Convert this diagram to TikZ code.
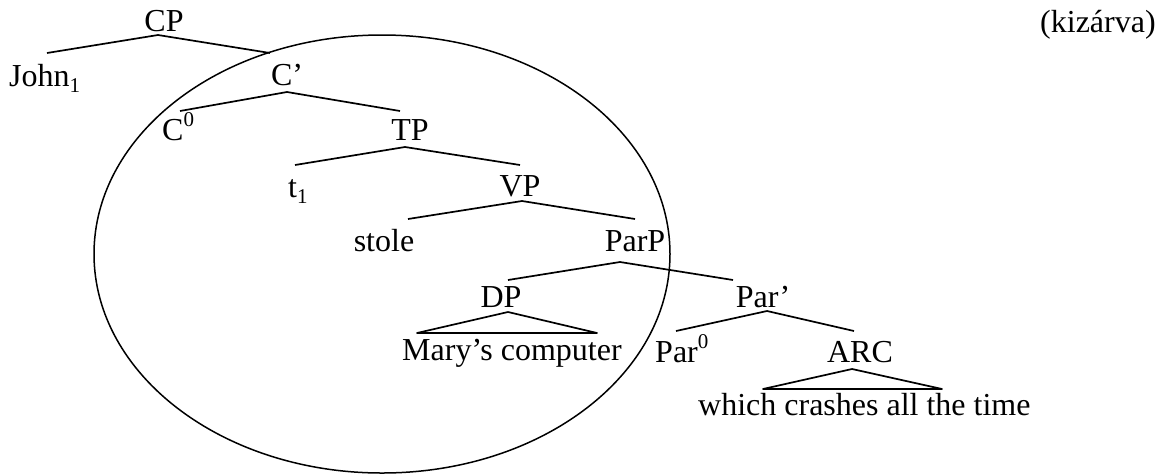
\documentclass[tikz,border=0pt]{standalone}
\usepackage{fontspec}
\setmainfont{Liberation Serif}
\newcommand{\lowsub}[1]{\raisebox{-0.2em}{\fontsize{21}{21}\selectfont #1}}
\newcommand{\highsup}[1]{\raisebox{0.42em}{\fontsize{21}{21}\selectfont #1}}
\begin{document}
\begin{tikzpicture}[x=1pt,y=-1pt,
  lab/.style={inner sep=0pt,font=\fontsize{32}{38}\selectfont},
  branch/.style={line width=1.7pt,line join=round},
  circ/.style={line width=1.5pt}]
\path[use as bounding box] (0,0) rectangle (1164,475);

% labels
\node[lab,anchor=base] (CP) at (164,31) {CP};
\node[lab,anchor=base west] (John) at (9,86) {John\lowsub{1}};
\node[lab,anchor=base] (Cbar) at (287,85) {C’};
\node[lab,anchor=base west] (C0) at (162,140) {C\highsup{0}};
\node[lab,anchor=base] (TP) at (410,140) {TP};
\node[lab,anchor=base west] (t1) at (288,197) {t\lowsub{1}};
\node[lab,anchor=base] (VP) at (520,196) {VP};
\node[lab,anchor=base] (stole) at (384,251) {stole};
\node[lab,anchor=base] (ParP) at (635,251) {ParP};
\node[lab,anchor=base] (DP) at (501,307) {DP};
\node[lab,anchor=base] (Parbar) at (763,307) {Par’};
\node[lab,anchor=base west] (Mary) at (402,360) {Mary’s computer};
\node[lab,anchor=base west] (Par0) at (655,362) {Par\highsup{0}};
\node[lab,anchor=base] (ARC) at (860,362) {ARC};
\node[lab,anchor=base west] (which) at (698,415) {which crashes all the time};
\node[lab,anchor=base west] (kiz) at (1040,32) {(kizárva)};

% attachment points of the branches
\coordinate (CP-dn) at (158,35);
\coordinate (John-up) at (47,53);
\coordinate (Cbar-up) at (270,53);
\coordinate (Cbar-dn) at (287,92);
\coordinate (C0-up) at (180,111);
\coordinate (TP-up) at (400,111);
\coordinate (TP-dn) at (405,147);
\coordinate (t1-up) at (295,165);
\coordinate (VP-up) at (520,165);
\coordinate (VP-dn) at (522,201);
\coordinate (stole-up) at (408,219);
\coordinate (ParP-up) at (635,219);
\coordinate (ParP-dn) at (620,262);
\coordinate (DP-up) at (508,280);
\coordinate (Parbar-up) at (733,280);
\coordinate (DP-dn) at (508,312);
\coordinate (Mary-l) at (417,333);
\coordinate (Mary-r) at (597,333);
\coordinate (Parbar-dn) at (767,311);
\coordinate (Par0-up) at (676,331);
\coordinate (ARC-up) at (854,331);
\coordinate (ARC-dn) at (852,369);
\coordinate (which-l) at (763,389);
\coordinate (which-r) at (942,389);

% branches
\draw[branch] (John-up) -- (CP-dn) -- (Cbar-up);
\draw[branch] (C0-up) -- (Cbar-dn) -- (TP-up);
\draw[branch] (t1-up) -- (TP-dn) -- (VP-up);
\draw[branch] (stole-up) -- (VP-dn) -- (ParP-up);
\draw[branch] (DP-up) -- (ParP-dn) -- (Parbar-up);
\draw[branch] (DP-dn) -- (Mary-r) -- (Mary-l) -- cycle;
\draw[branch] (Par0-up) -- (Parbar-dn) -- (ARC-up);
\draw[branch] (ARC-dn) -- (which-r) -- (which-l) -- cycle;

% the enclosed domain
\coordinate (dom) at (382,254);
\draw[circ] (dom) ellipse [x radius=288, y radius=219];
\end{tikzpicture}
\end{document}
